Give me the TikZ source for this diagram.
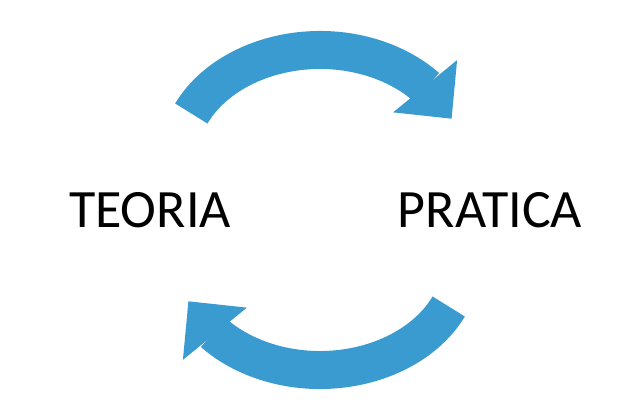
\documentclass[tikz,border=0pt]{standalone}
\usepackage{fontspec}
\setmainfont{Carlito}
\usetikzlibrary{arrows.meta,bending}
\definecolor{arr}{HTML}{3A9BD0}
\begin{document}
\begin{tikzpicture}[x=1pt,y=1pt,
  band/.style={draw=arr,line width=38pt,-{Triangle[width=80pt,length=42pt,flex]}},
  lbl/.style={font=\fontsize{54}{60}\selectfont,text=black}]
\useasboundingbox (0,0) rectangle (640,420);
\node[lbl] (t) at (150,210) {TEORIA};
\node[lbl] (p) at (490,210) {PRATICA};
\draw[band] (320,260) ++(155:142 and 110) arc[start angle=155,end angle=22,x radius=142,y radius=110];
\draw[band] (320,160) ++(-25:142 and 110) arc[start angle=-25,end angle=-158,x radius=142,y radius=110];
\end{tikzpicture}
\end{document}
